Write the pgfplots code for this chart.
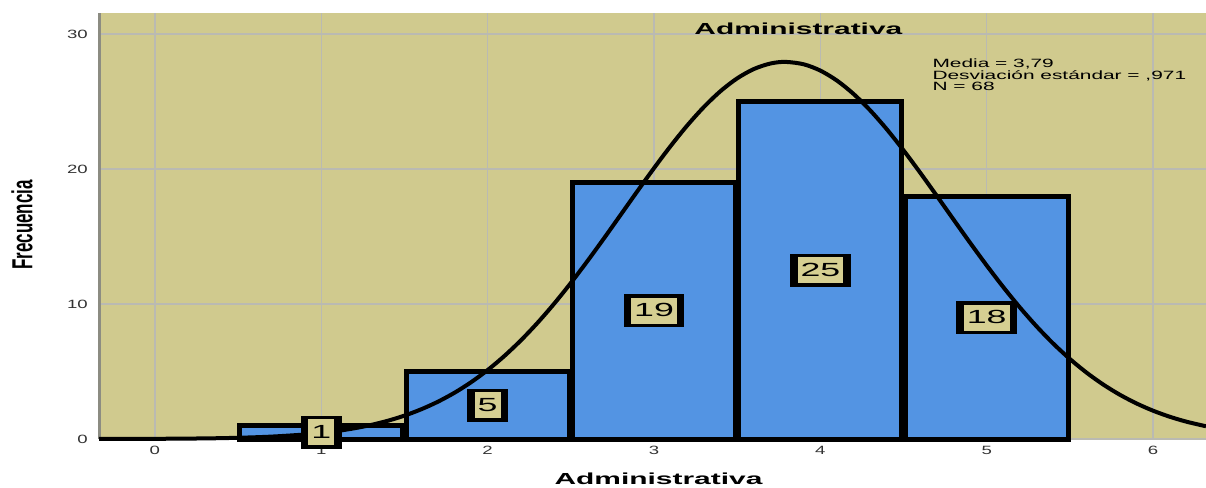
\documentclass[border=0pt]{standalone}
\usepackage{fontspec}
\setmainfont{Liberation Sans}
\usepackage{graphicx}
\usepackage{pgfplots}
\pgfplotsset{compat=1.18}

\definecolor{bgtan}{RGB}{208,202,142}
\definecolor{boxtan}{RGB}{214,207,146}
\definecolor{barblue}{RGB}{83,148,227}
\definecolor{gridgray}{RGB}{186,186,178}
\definecolor{spine}{RGB}{140,140,130}

% tan box with the count, sits inside a black node
\newcommand\labelbox[1]{{\setlength\fboxsep{0pt}\colorbox{boxtan}{\rule[-7pt]{0pt}{26pt}\hspace{3pt}\scalebox{1.88}[1]{\fontsize{19pt}{19pt}\selectfont #1}\hspace{3pt}}}}

\begin{document}
\begin{tikzpicture}
\path[use as bounding box] (-99pt,-48pt) rectangle (1107pt,439pt);
\begin{axis}[
    at={(0,0)}, anchor=south west,
    scale only axis,
    width=1107pt, height=426pt,
    xmin=-0.336, xmax=6.318,
    ymin=0, ymax=31.56,
    axis background/.style={fill=bgtan},
    axis lines=left,
    axis line style={-},
    x axis line style={draw=none},
    y axis line style={draw=spine, line width=3pt},
    xtick={0,1,...,6},
    ytick={0,10,20,30},
    grid=major,
    grid style={gridgray, line width=1.5pt},
    major tick length=0pt,
    /pgf/number format/assume math mode=true,
    tick label style={font=\fontsize{12pt}{12pt}\selectfont, text=black!80, inner sep=0pt},
    xticklabel={\scalebox{1.55}[1]{\pgfmathprintnumber{\tick}}},
    yticklabel={\scalebox{1.55}[1]{\pgfmathprintnumber{\tick}}},
    yticklabel style={anchor=east, xshift=-11pt},
    xticklabel style={anchor=north, yshift=-7pt},
    clip=false,
]

% histogram bars
\addplot[ybar, bar width=0.98, fill=barblue, draw=black, line width=5pt]
    coordinates {(1,1) (2,5) (3,19) (4,25) (5,18)};

% count labels at half bar height
\addplot[draw=none, mark=none, point meta=explicit symbolic,
    nodes near coords={\labelbox{\pgfplotspointmeta}},
    every node near coord/.style={anchor=center, fill=black, inner xsep=7.5pt, inner ysep=3.5pt}]
    coordinates {(1,0.5)[1] (2,2.5)[5] (3,9.5)[19] (4,12.5)[25] (5,9)[18]};

% normal curve (media 3,79, desv. 0,971, N 68)
\addplot[black, line width=4pt, smooth] coordinates {
(-0.336,0.0034) (0,0.0137) (0.3,0.0438) (0.5,0.0898) (0.7,0.1767) (0.9,0.3332)
(1.0,0.4502) (1.1,0.6020) (1.2,0.7966) (1.3,1.0430) (1.4,1.3510) (1.5,1.7318)
(1.6,2.1965) (1.7,2.7556) (1.8,3.4207) (1.9,4.2027) (2.0,5.1077) (2.1,6.1442)
(2.2,7.3106) (2.3,8.6074) (2.4,10.0275) (2.5,11.5593) (2.6,13.184) (2.7,14.878)
(2.8,16.615) (2.9,18.356) (3.0,20.066) (3.1,21.704) (3.2,23.229) (3.3,24.598)
(3.4,25.773) (3.5,26.719) (3.6,27.408) (3.7,27.818) (3.79,27.938) (3.9,27.759)
(4.0,27.292) (4.1,26.550) (4.2,25.555) (4.3,24.339) (4.4,22.935) (4.5,21.384)
(4.6,19.728) (4.7,18.009) (4.8,16.265) (4.9,14.535) (5.0,12.853) (5.1,11.245)
(5.2,9.734) (5.3,8.338) (5.4,7.066) (5.5,5.926) (5.6,4.917) (5.7,4.036)
(5.8,3.279) (5.9,2.636) (6.0,2.095) (6.1,1.649) (6.2,1.284) (6.318,0.9427)
};

\node[anchor=base, font=\bfseries\fontsize{16pt}{16pt}\selectfont]
    at (axis cs:3.868,29.93) {\scalebox{1.87}[1]{Administrativa}};
\node[anchor=base west, inner sep=0pt, font=\fontsize{12pt}{12pt}\selectfont]
    at (axis cs:4.673,27.55) {\scalebox{1.74}[1]{Media = 3,79}};
\node[anchor=base west, inner sep=0pt, font=\fontsize{12pt}{12pt}\selectfont]
    at (axis cs:4.673,26.67) {\scalebox{1.74}[1]{Desviación estándar = ,971}};
\node[anchor=base west, inner sep=0pt, font=\fontsize{12pt}{12pt}\selectfont]
    at (axis cs:4.673,25.79) {\scalebox{1.74}[1]{N = 68}};
\end{axis}

\node[anchor=base, font=\bfseries\fontsize{16pt}{16pt}\selectfont]
    at (559.5pt,-45pt) {\scalebox{1.87}[1]{Administrativa}};
\node[rotate=90, anchor=center, font=\bfseries\fontsize{14.5pt}{14.5pt}\selectfont]
    at (-77pt,214pt) {\scalebox{1.17}[2.0]{Frecuencia}};
\end{tikzpicture}
\end{document}
